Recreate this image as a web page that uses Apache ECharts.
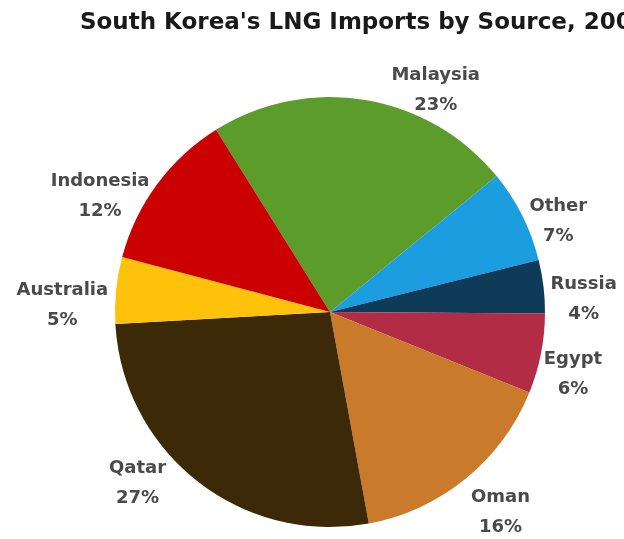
<!DOCTYPE html>
<html>
<head>
<meta charset="utf-8">
<script src="https://cdn.jsdelivr.net/npm/echarts@6/dist/echarts.min.js"></script>
<style>html,body{margin:0;padding:0;background:#fff}#c{width:624px;height:539px}</style>
</head>
<body>
<div id="c"></div>
<script>
const titleText = "South Korea's LNG Imports by Source, 2009";
const sources = ['Malaysia', 'Other', 'Russia', 'Egypt', 'Oman', 'Qatar', 'Australia', 'Indonesia'];
const shares = [23, 7, 4, 6, 16, 27, 5, 12];
const colors = ['#5b9c2b', '#1b9de0', '#0d3b58', '#b32c46', '#c97a2b', '#3b2908', '#ffc20a', '#cb0000'];
// label nudges (px) relative to library-computed outside label position
const labelNudge = [[20,-2],[-5,9],[-6,14],[-10,19],[-5,28],[-21,-4],[5,16],[4,17]];

const chart = echarts.init(document.getElementById('c'));
chart.setOption({
  animation: false,
  title: {
    text: titleText,
    left: 75, top: 7,
    textStyle: {fontFamily: 'DejaVu Sans', fontWeight: 'bold', fontSize: 23, color: '#1a1a1a'}
  },
  series: [{
    type: 'pie',
    center: [330, 312],
    radius: 215,
    startAngle: 122,
    clockwise: true,
    avoidLabelOverlap: false,
    data: sources.map((s, i) => ({name: s, value: shares[i], itemStyle: {color: colors[i]}})),
    label: {
      show: true,
      position: 'outside',
      formatter: '{b}\n{c}%',
      fontFamily: 'DejaVu Sans',
      fontWeight: 'bold',
      fontSize: 18,
      lineHeight: 30,
      color: '#4a4a4a'
    },
    labelLine: {show: false, length: 8, length2: 0},
    labelLayout: function (p) {
      const r = p.labelRect;
      const n = labelNudge[p.dataIndex];
      return {x: r.x + r.width / 2 + n[0], y: r.y + r.height / 2 + n[1], align: 'center', verticalAlign: 'middle'};
    }
  }]
});
</script>
</body>
</html>
